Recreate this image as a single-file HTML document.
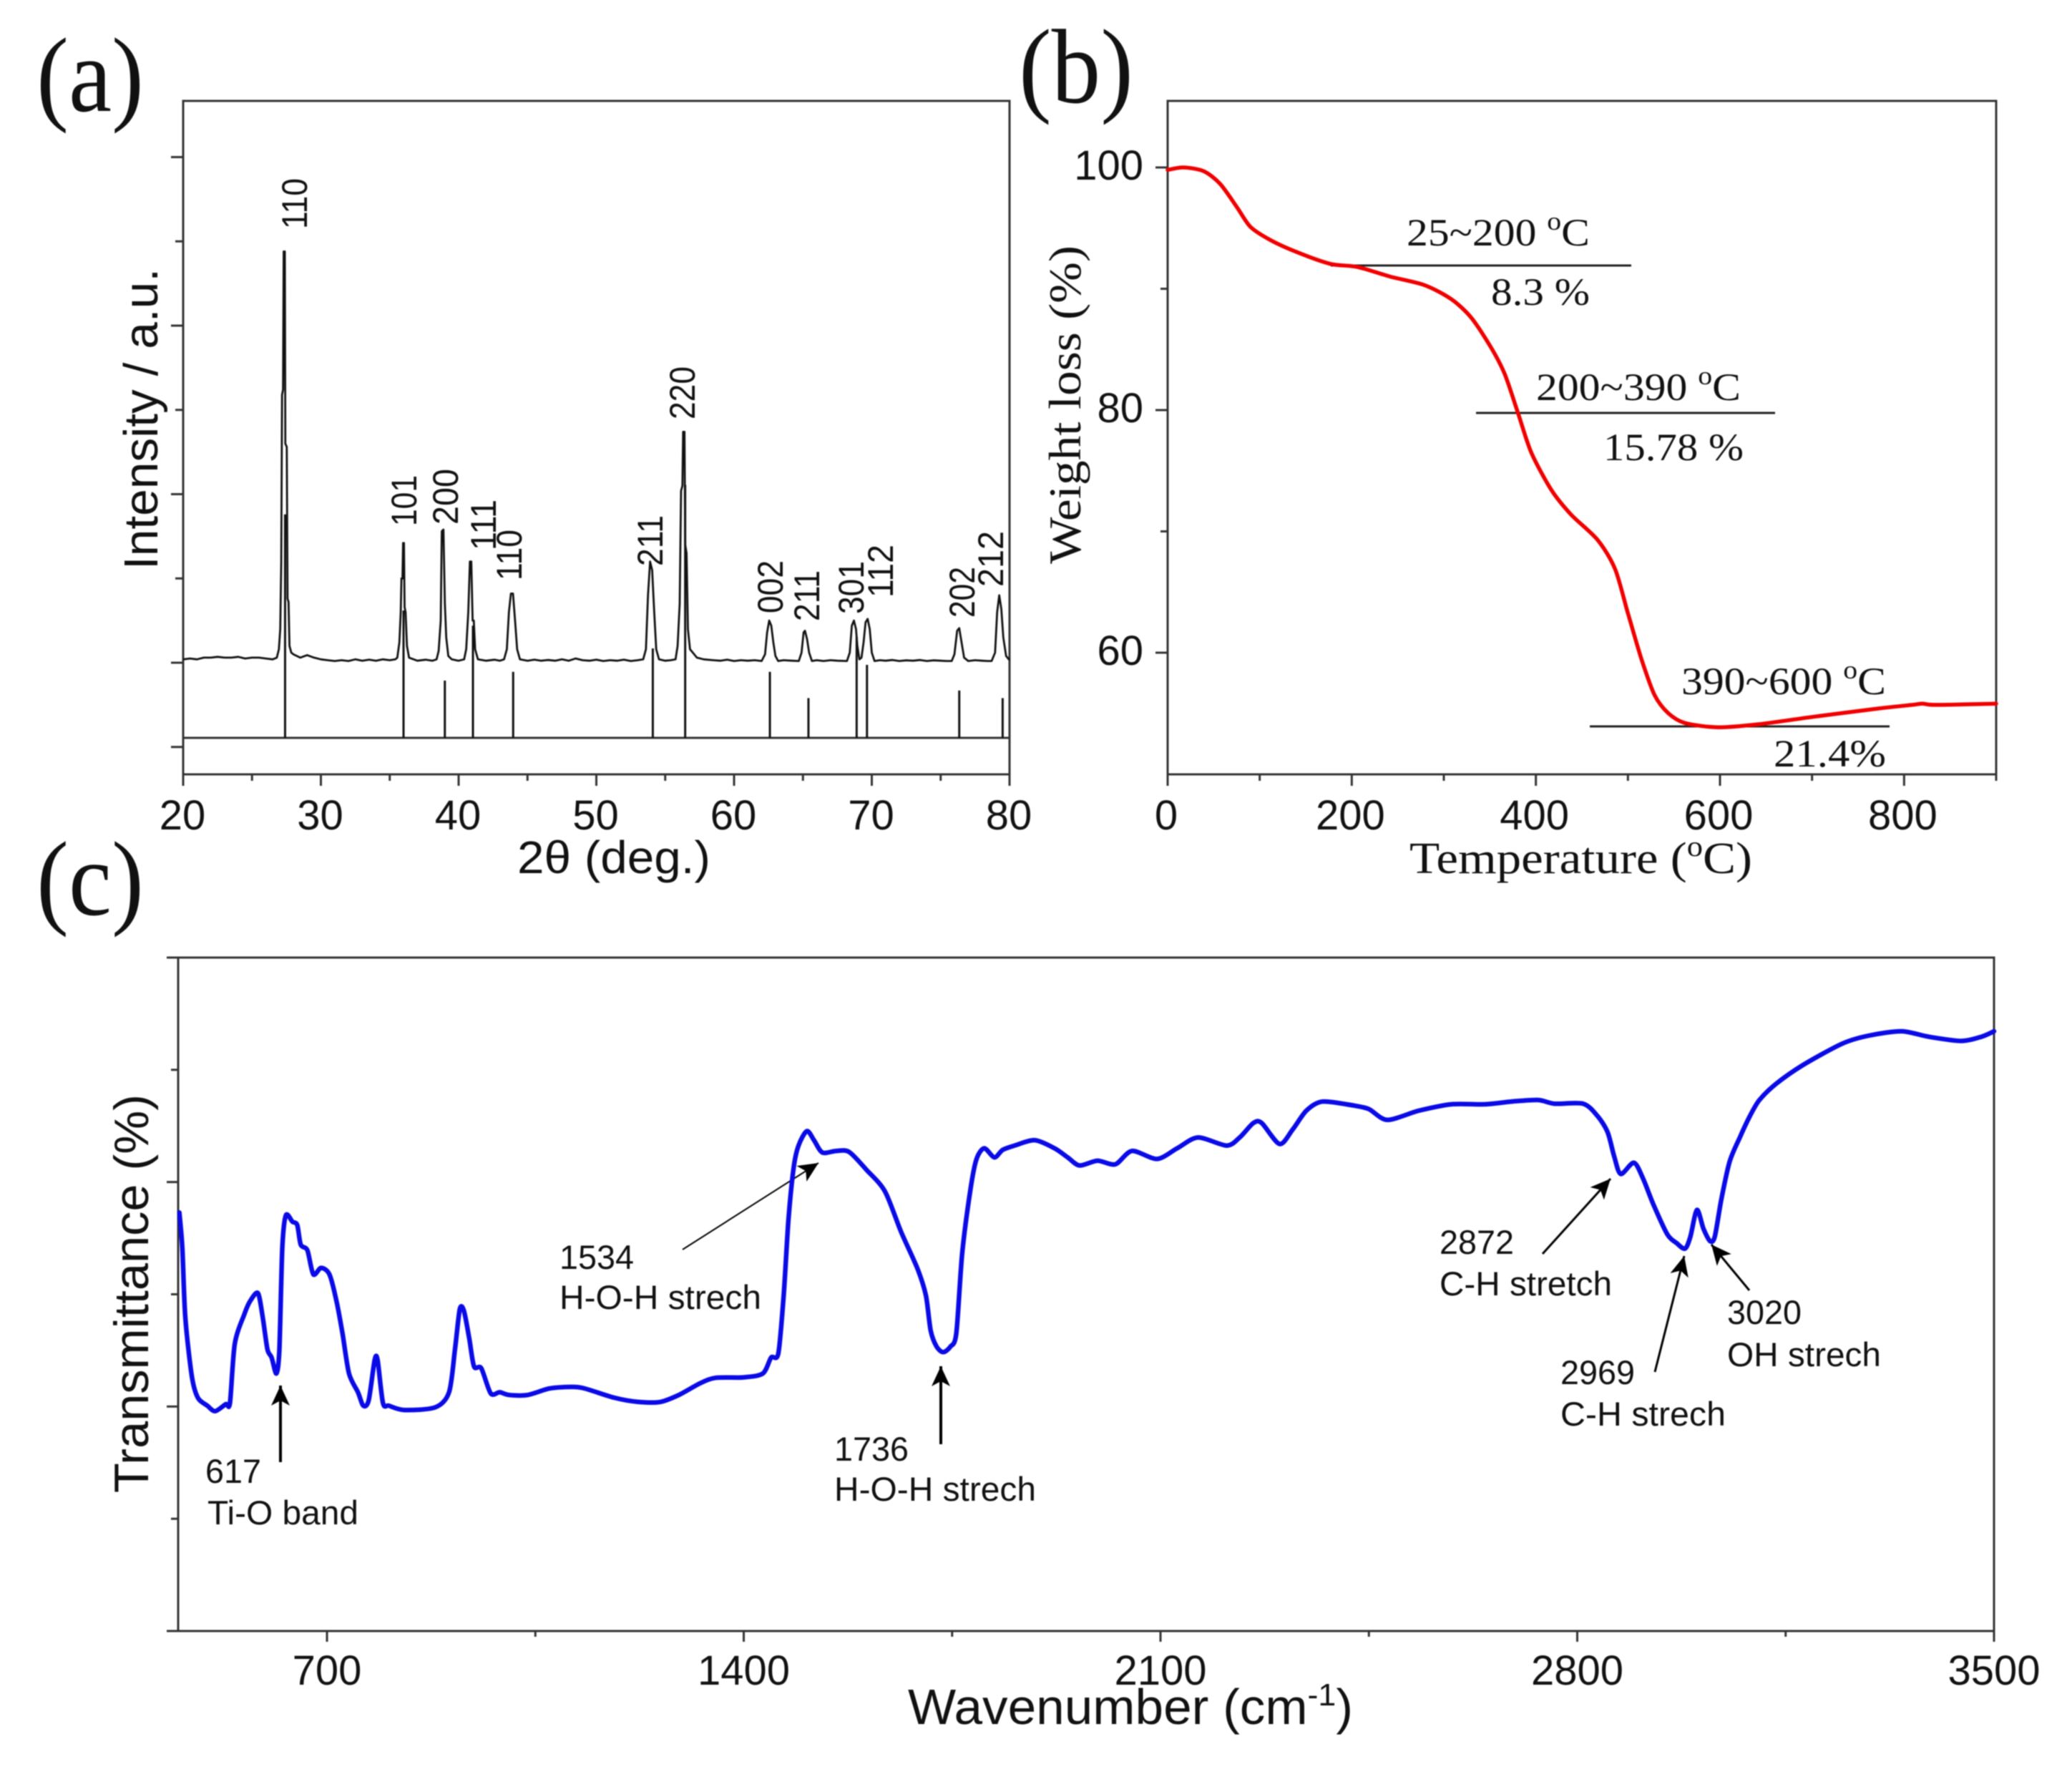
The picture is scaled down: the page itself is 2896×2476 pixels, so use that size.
<!DOCTYPE html>
<html lang="en">
<head>
<meta charset="utf-8">
<title>XRD, TGA and FTIR characterisation</title>
<style>
  html, body { margin: 0; padding: 0; background: #fff; }
  svg { display: block; filter: blur(0.8px); }
  .sans { font-family: "Liberation Sans", sans-serif; fill: #111; }
  .serif { font-family: "Liberation Serif", serif; fill: #111; }
</style>
</head>
<body>
<svg id="figure" xmlns="http://www.w3.org/2000/svg" width="2896" height="2476" viewBox="0 0 2896 2476">
  <defs>
    <marker id="arrow-head" markerUnits="userSpaceOnUse" markerWidth="40" markerHeight="40" refX="30" refY="20" orient="auto">
      <path d="M30,20 L2,7 L9,20 L2,33 Z" fill="#000"></path>
    </marker>
  </defs>
  <rect width="2896" height="2476" fill="#fff"></rect>

  <text class="serif" x="51" y="155" font-size="148" textLength="150" lengthAdjust="spacingAndGlyphs">(a)</text>
  <text class="serif" x="1424" y="143" font-size="148" textLength="160" lengthAdjust="spacingAndGlyphs">(b)</text>
  <text class="serif" x="51" y="1278" font-size="148" textLength="150" lengthAdjust="spacingAndGlyphs">(c)</text>

  <g id="panel-a">
    <text class="sans" x="723" y="1220" font-size="64" textLength="270" lengthAdjust="spacingAndGlyphs">2θ (deg.)</text>
    <text class="sans" transform="translate(220,796) rotate(-90)" font-size="67" textLength="421" lengthAdjust="spacingAndGlyphs">Intensity / a.u.</text>
    <g class="sans" font-size="50">
      <text transform="translate(429,320) rotate(-90)" textLength="71" lengthAdjust="spacingAndGlyphs">110</text>
      <text transform="translate(582,735) rotate(-90)" textLength="71" lengthAdjust="spacingAndGlyphs">101</text>
      <text transform="translate(640,733) rotate(-90)" textLength="78" lengthAdjust="spacingAndGlyphs">200</text>
      <text transform="translate(693,769) rotate(-90)" textLength="71" lengthAdjust="spacingAndGlyphs">111</text>
      <text transform="translate(729,811) rotate(-90)" textLength="71" lengthAdjust="spacingAndGlyphs">110</text>
      <text transform="translate(926,791) rotate(-90)" textLength="71" lengthAdjust="spacingAndGlyphs">211</text>
      <text transform="translate(971,586) rotate(-90)" textLength="74" lengthAdjust="spacingAndGlyphs">220</text>
      <text transform="translate(1094,857) rotate(-90)" textLength="74" lengthAdjust="spacingAndGlyphs">002</text>
      <text transform="translate(1145,868) rotate(-90)" textLength="71" lengthAdjust="spacingAndGlyphs">211</text>
      <text transform="translate(1207,858) rotate(-90)" textLength="74" lengthAdjust="spacingAndGlyphs">301</text>
      <text transform="translate(1248,835) rotate(-90)" textLength="74" lengthAdjust="spacingAndGlyphs">112</text>
      <text transform="translate(1362,863) rotate(-90)" textLength="71" lengthAdjust="spacingAndGlyphs">202</text>
      <text transform="translate(1402,820) rotate(-90)" textLength="78" lengthAdjust="spacingAndGlyphs">212</text>
    </g>
  </g>

  <g id="panel-b">
    <text class="serif" x="1970" y="1220" font-size="62" textLength="479" lengthAdjust="spacingAndGlyphs">Temperature (<tspan dy="-24" font-size="40">o</tspan><tspan dy="24">C)</tspan></text>
    <text class="serif" transform="translate(1510,788) rotate(-90)" font-size="64" textLength="445" lengthAdjust="spacingAndGlyphs">Weight loss (%)</text>
    <line x1="1860" x2="2280" y1="371" y2="371" stroke="#222" stroke-width="3"></line>
    <line x1="2063" x2="2481" y1="577" y2="577" stroke="#222" stroke-width="3"></line>
    <line x1="2222" x2="2641" y1="1015" y2="1015" stroke="#222" stroke-width="3"></line>
    <text class="serif" x="1966" y="343" font-size="54" textLength="256" lengthAdjust="spacingAndGlyphs">25~200 <tspan dy="-22" font-size="36">o</tspan><tspan dy="22">C</tspan></text>
    <text class="serif" x="2084" y="426" font-size="54" textLength="138" lengthAdjust="spacingAndGlyphs">8.3 %</text>
    <text class="serif" x="2147" y="559" font-size="54" textLength="286" lengthAdjust="spacingAndGlyphs">200~390 <tspan dy="-22" font-size="36">o</tspan><tspan dy="22">C</tspan></text>
    <text class="serif" x="2241" y="643" font-size="54" textLength="196" lengthAdjust="spacingAndGlyphs">15.78 %</text>
    <text class="serif" x="2350" y="970" font-size="54" textLength="286" lengthAdjust="spacingAndGlyphs">390~600 <tspan dy="-22" font-size="36">o</tspan><tspan dy="22">C</tspan></text>
    <text class="serif" x="2479" y="1071" font-size="54" textLength="157" lengthAdjust="spacingAndGlyphs">21.4%</text>
  </g>

  <g id="panel-c">
    <text class="sans" x="1269" y="2409" font-size="70" textLength="622" lengthAdjust="spacingAndGlyphs">Wavenumber (cm<tspan dy="-26" font-size="44">-1</tspan><tspan dy="26">)</tspan></text>
    <text class="sans" transform="translate(207,2086) rotate(-90)" font-size="68" textLength="557" lengthAdjust="spacingAndGlyphs">Transmittance (%)</text>
    <g class="sans" font-size="47">
      <text x="287" y="2072" textLength="78" lengthAdjust="spacingAndGlyphs">617</text>
      <text x="290" y="2130" textLength="211" lengthAdjust="spacingAndGlyphs">Ti-O band</text>
      <text x="782" y="1773" textLength="104" lengthAdjust="spacingAndGlyphs">1534</text>
      <text x="782" y="1829" textLength="282" lengthAdjust="spacingAndGlyphs">H-O-H strech</text>
      <text x="1166" y="2041" textLength="104" lengthAdjust="spacingAndGlyphs">1736</text>
      <text x="1166" y="2097" textLength="282" lengthAdjust="spacingAndGlyphs">H-O-H strech</text>
      <text x="2012" y="1752" textLength="104" lengthAdjust="spacingAndGlyphs">2872</text>
      <text x="2012" y="1810" textLength="241" lengthAdjust="spacingAndGlyphs">C-H stretch</text>
      <text x="2181" y="1934" textLength="104" lengthAdjust="spacingAndGlyphs">2969</text>
      <text x="2181" y="1992" textLength="231" lengthAdjust="spacingAndGlyphs">C-H strech</text>
      <text x="2414" y="1850" textLength="104" lengthAdjust="spacingAndGlyphs">3020</text>
      <text x="2414" y="1909" textLength="215" lengthAdjust="spacingAndGlyphs">OH strech</text>
    </g>
    <line x1="392" y1="2043" x2="392" y2="1936" stroke="#000" stroke-width="4" marker-end="url(#arrow-head)"></line>
    <line x1="954" y1="1746" x2="1144" y2="1625" stroke="#000" stroke-width="2" marker-end="url(#arrow-head)"></line>
    <line x1="1315" y1="2018" x2="1315" y2="1909" stroke="#000" stroke-width="4" marker-end="url(#arrow-head)"></line>
    <line x1="2156" y1="1752" x2="2251" y2="1647" stroke="#000" stroke-width="3" marker-end="url(#arrow-head)"></line>
    <line x1="2313" y1="1917" x2="2354" y2="1755" stroke="#000" stroke-width="3" marker-end="url(#arrow-head)"></line>
    <line x1="2445" y1="1803" x2="2392" y2="1739" stroke="#000" stroke-width="3" marker-end="url(#arrow-head)"></line>
  </g>
</svg>

<script>
// ---------- XRD data ----------
const xrdTheta = [
  20,20.5,21,21.5,22,22.5,23,23.5,24,24.5,25,25.5,26,26.5,26.8,
  26.95,27.05,27.12,27.18,27.25,27.3,27.38,27.42,27.52,27.58,27.65,27.72,27.85,28,28.5,29,29.5,30,30.5,31,
  31.5,32,32.5,33,33.5,34,34.5,35,35.4,
  35.55,35.7,35.8,35.85,35.92,35.97,36.03,36.08,36.15,36.25,36.4,37,37.6,38.1,
  38.4,38.55,38.7,38.78,38.9,39,39.1,39.25,39.5,40,
  40.4,40.55,40.7,40.82,40.92,41.02,41.1,41.2,41.4,42,42.6,43,
  43.3,43.5,43.65,43.8,43.95,44.1,44.25,44.45,45,45.5,46,46.5,47,47.5,48,48.5,49,49.5,50,50.5,51,51.5,52,52.5,53,
  53.4,53.6,53.75,53.9,54.05,54.2,54.35,54.55,55,55.4,
  55.75,55.9,56.05,56.15,56.25,56.3,56.4,56.45,56.55,56.65,56.8,57,57.3,57.8,58.5,59,59.5,60,60.5,61,61.5,
  62,62.25,62.4,62.55,62.7,62.85,63,63.2,63.6,64.2,
  64.7,64.9,65.05,65.15,65.3,65.45,65.65,66,66.5,67,67.5,
  68.2,68.4,68.55,68.7,68.85,68.95,69.1,69.25,69.4,69.55,69.7,69.85,70,70.2,70.6,71,71.5,72,72.5,73,73.5,74,74.5,75,75.4,
  75.8,76,76.2,76.35,76.5,76.7,77,77.5,78,78.4,
  78.7,78.95,79.1,79.25,79.4,79.55,79.75,80
];
const xrdIntensity = [
  .02,.025,.02,.03,.03,.035,.03,.03,.035,.025,.03,.03,.025,.02,.03,
  .08,.2,.6,1.59,1.62,2.44,2.44,1.3,1.28,.38,.36,.1,.06,.05,.03,.045,.03,.02,.015,.01,
  .015,.01,.02,.012,.018,.012,.02,.015,.02,
  .03,.12,.3,.5,.5,.71,.71,.33,.3,.1,.03,.012,.018,.012,
  .02,.07,.25,.78,.79,.35,.15,.04,.02,.012,
  .02,.08,.3,.6,.6,.25,.25,.08,.02,.012,.018,.012,
  .02,.08,.3,.41,.41,.25,.08,.02,.012,.018,.012,.016,.012,.02,.012,.025,.015,.012,.018,.01,.015,.012,.018,.01,.015,
  .02,.08,.4,.6,.55,.3,.08,.02,.012,.015,
  .02,.1,.35,1.02,1.05,1.37,1.37,.7,.65,.2,.08,.06,.03,.02,.015,.012,.018,.01,.015,.012,.015,
  .01,.05,.18,.25,.22,.12,.04,.01,.015,.012,
  .01,.06,.18,.19,.14,.06,.01,.015,.01,.015,.012,
  .01,.06,.22,.25,.2,.1,.02,.03,.12,.24,.26,.2,.06,.01,.015,.012,.016,.01,.014,.012,.016,.01,.014,.012,.01,
  .01,.05,.19,.205,.13,.03,.01,.015,.012,.01,
  .01,.06,.3,.4,.32,.15,.04,.015
];
const stickTheta = [27.4,36,39,41.04,43.96,54.1,56.45,62.6,65.4,68.9,69.65,76.35,79.5];
const stickIntensity = [.88,.31,-.106,.22,-.054,.085,1.055,-.054,-.21,.153,-.013,-.165,-.21];
const stickBase = -.446;
const xrdXTicks = [20,30,40,50,60,70,80];
const xrdXMinorTicks = [25,35,45,55,65,75];
const xrdYMajorTicks = [-.5,0,1,2,3];
const xrdYMinorTicks = [.5,1.5,2.5];

// ---------- TGA data ----------
const tgaTemperature = [0,17,39,57,75.5,90,112,141,177,206,242,279,308,330,351,366,380,395,417,438,467,486,500,515,529,544,562,598,642,700,772,809,820,834,900];
const tgaWeight = [99.8,100,99.7,98.65,96.7,95.1,94,93,92.05,91.8,91,90.3,89.15,87.6,85.2,83,79.9,76.5,73.4,71.4,69.3,66.9,63.25,59.4,56.5,55,54.2,53.85,54.1,54.7,55.4,55.7,55.8,55.7,55.8];
const tgaXTicks = [0,200,400,600,800];
const tgaXMinorTicks = [100,300,500,700,900];
const tgaYTicks = [60,80,100];
const tgaYMinorTicks = [70,90];

// ---------- FTIR data ----------
const ftirWavenumber = [
  452,457,462,473,483,499,512,530,537,545,561,571,584,592,600,607,615,620,625,631,642,650,656,667,677,690,704,716,726,737,752,761,770,780,785,794,804,830,882,905,915,923,930,939,947,959,975,990,1006,1037,1073,1104,1130,1182,1223,1260,1291,1327,1353,1399,1432,1446,1458,1467,1475,1484,1492,1506,1518,1532,1555,1577,1606,1637,1664,1692,1706,1714,1724,1735,1747,1757,1767,1781,1791,1804,1821,1835,1855,1889,
  1922,1944,1964,1994,2024,2052,2094,2128,2163,2211,2233,2256,2270,2300,2322,2345,2372,2423,2450,2481,2534,2589,2645,2689,2734,2762,2810,2834,2851,2862,2873,2895,2910,2928,2951,2967,2981,2990,3001,3012,3023,3031,3042,3056,3073,3090,3106,3134,3179,3245,3290,3345,3390,3445,3479,3500
];
const ftirTransmittance = [
  3.728,3.417,2.796,2.27,2.079,2.007,1.959,2.021,2.031,2.557,2.82,2.94,3.01,2.796,2.509,2.437,2.294,2.509,3.417,3.704,3.646,3.618,3.441,3.393,3.178,3.235,3.178,2.939,2.652,2.294,2.127,2.007,2.055,2.413,2.413,2.031,2.007,1.969,1.993,2.127,2.509,2.867,2.853,2.605,2.356,2.342,2.117,2.127,2.103,2.103,2.16,2.174,2.165,2.079,2.041,2.041,2.103,2.208,2.256,2.26,2.294,2.437,2.471,2.987,3.656,4.134,4.325,4.454,4.373,4.263,4.277,4.268,4.11,3.919,3.56,3.226,2.987,2.676,2.533,2.485,2.533,2.652,3.369,3.943,4.206,4.301,4.22,4.287,4.325,4.373,
  4.301,4.22,4.148,4.19,4.158,4.277,4.206,4.301,4.397,4.325,4.397,4.526,4.526,4.339,4.468,4.636,4.717,4.683,4.65,4.554,4.636,4.693,4.693,4.717,4.731,4.698,4.698,4.588,4.444,4.229,4.072,4.172,4.038,3.799,3.536,3.455,3.407,3.513,3.752,3.584,3.474,3.513,3.847,4.182,4.397,4.588,4.731,4.875,5.042,5.233,5.305,5.343,5.295,5.257,5.295,5.343
];
const ftirXTicks = [700,1400,2100,2800,3500];
const ftirXMinorTicks = [1050,1750,2450,3150];
const ftirYMajorTicks = [0,2,4,6];
const ftirYMinorTicks = [1,3,5];

const SVG_NS = 'http://www.w3.org/2000/svg';
const AXIS_COLOR = '#333';

function linear(d0, d1, r0, r1) {
  return function (v) { return r0 + (v - d0) * (r1 - r0) / (d1 - d0); };
}
function make(parent, tag, attrs) {
  const el = document.createElementNS(SVG_NS, tag);
  Object.keys(attrs).forEach(function (k) { el.setAttribute(k, attrs[k]); });
  parent.appendChild(el);
  return el;
}
function polyPoints(xs, ys, sx, sy) {
  return xs.map(function (x, i) { return sx(x).toFixed(1) + ',' + sy(ys[i]).toFixed(1); }).join(' ');
}
// Rounds the corners of a trace between its data points (Catmull-Rom to Bezier).
function smoothPath(xs, ys, sx, sy) {
  const px = xs.map(sx);
  const py = ys.map(sy);
  let d = 'M' + px[0].toFixed(1) + ',' + py[0].toFixed(1);
  const k = 0.14;
  for (let i = 0; i < px.length - 1; i++) {
    const a = Math.max(i - 1, 0);
    const b = Math.min(i + 2, px.length - 1);
    d += ' C' + (px[i] + (px[i + 1] - px[a]) * k).toFixed(1) + ',' + (py[i] + (py[i + 1] - py[a]) * k).toFixed(1) +
         ' ' + (px[i + 1] - (px[b] - px[i]) * k).toFixed(1) + ',' + (py[i + 1] - (py[b] - py[i]) * k).toFixed(1) +
         ' ' + px[i + 1].toFixed(1) + ',' + py[i + 1].toFixed(1);
  }
  return d;
}
function drawFrame(parent, left, top, right, bottom) {
  const el = make(parent, 'rect', { x: left, y: top, width: right - left, height: bottom - top, fill: 'none', stroke: AXIS_COLOR, 'stroke-width': 3 });
  
  
}
function drawXTick(parent, x, bottom, len) {
  const el = make(parent, 'line', { x1: x, x2: x, y1: bottom, y2: bottom + len, stroke: AXIS_COLOR, 'stroke-width': 3 });
  
  
}
function drawYTick(parent, left, y, len) {
  const el = make(parent, 'line', { x1: left - len, x2: left, y1: y, y2: y, stroke: AXIS_COLOR, 'stroke-width': 3 });
  
  
}
function drawTickLabel(parent, x, y, value, anchor) {
  const el = make(parent, 'text', { x: x, y: y, 'text-anchor': anchor, 'font-size': 58, class: 'sans' });
  el.textContent = value;
  
  
}

// ---------- Panel (a) ----------
(function () {
  const g = document.getElementById('panel-a');
  const left = 256, right = 1411, top = 141, bottom = 1082;
  const sx = linear(20, 80, left, right);
  const sy = linear(0, 1, 926, 690.5);
  drawFrame(g, left, top, right, bottom);
  xrdXTicks.forEach(function (t) {
    drawXTick(g, sx(t), bottom, 16);
    drawTickLabel(g, sx(t) - 1, 1159, String(t), 'middle');
  });
  xrdXMinorTicks.forEach(function (t) { drawXTick(g, sx(t), bottom, 9); });
  xrdYMajorTicks.forEach(function (t) { drawYTick(g, left, sy(t), 17); });
  xrdYMinorTicks.forEach(function (t) { drawYTick(g, left, sy(t), 11); });

  const baseLine = make(g, 'line', { x1: left, x2: right, y1: sy(stickBase), y2: sy(stickBase), stroke: AXIS_COLOR, 'stroke-width': 3 });
  
  

  stickTheta.forEach(function (t, i) {
    const stick = make(g, 'line', { x1: sx(t), x2: sx(t), y1: sy(stickBase), y2: sy(stickIntensity[i]), stroke: '#111', 'stroke-width': 3 });
    
    
  });

  const trace = make(g, 'polyline', { points: polyPoints(xrdTheta, xrdIntensity, sx, sy), fill: 'none', stroke: '#111', 'stroke-width': 2.8, 'stroke-linejoin': 'round' });
  
  
})();

// ---------- Panel (b) ----------
(function () {
  const g = document.getElementById('panel-b');
  const left = 1632, right = 2790, top = 141, bottom = 1082;
  const sx = linear(0, 900, left, right);
  const sy = linear(100, 60, 234, 912);
  drawFrame(g, left, top, right, bottom);
  tgaXTicks.forEach(function (t) {
    drawXTick(g, sx(t), bottom, 16);
    drawTickLabel(g, sx(t) - 2, 1159, String(t), 'middle');
  });
  tgaXMinorTicks.forEach(function (t) { drawXTick(g, sx(t), bottom, 9); });
  tgaYTicks.forEach(function (t) {
    drawYTick(g, left, sy(t), 17);
    drawTickLabel(g, 1598, sy(t) + 17, String(t), 'end');
  });
  tgaYMinorTicks.forEach(function (t) { drawYTick(g, left, sy(t), 10); });

  const trace = make(g, 'path', { d: smoothPath(tgaTemperature, tgaWeight, sx, sy), fill: 'none', stroke: '#f00000', 'stroke-width': 5.5, 'stroke-linejoin': 'round', 'stroke-linecap': 'round' });
  
  
})();

// ---------- Panel (c) ----------
(function () {
  const g = document.getElementById('panel-c');
  const left = 249, right = 2787, top = 1338, bottom = 2279;
  const sx = linear(450, 3500, left, right);
  const sy = linear(0, 6, 2279, 1338);
  drawFrame(g, left, top, right, bottom);
  ftirXTicks.forEach(function (t) {
    drawXTick(g, sx(t), bottom, 15);
    drawTickLabel(g, sx(t), 2354, String(t), 'middle');
  });
  ftirXMinorTicks.forEach(function (t) { drawXTick(g, sx(t), bottom, 8); });
  ftirYMajorTicks.forEach(function (t) { drawYTick(g, left, sy(t), 16); });
  ftirYMinorTicks.forEach(function (t) { drawYTick(g, left, sy(t), 10); });

  const trace = make(g, 'path', { d: smoothPath(ftirWavenumber, ftirTransmittance, sx, sy), fill: 'none', stroke: '#0a0ae6', 'stroke-width': 6.5, 'stroke-linejoin': 'round', 'stroke-linecap': 'round' });
  
  
})();
</script>
</body>
</html>
